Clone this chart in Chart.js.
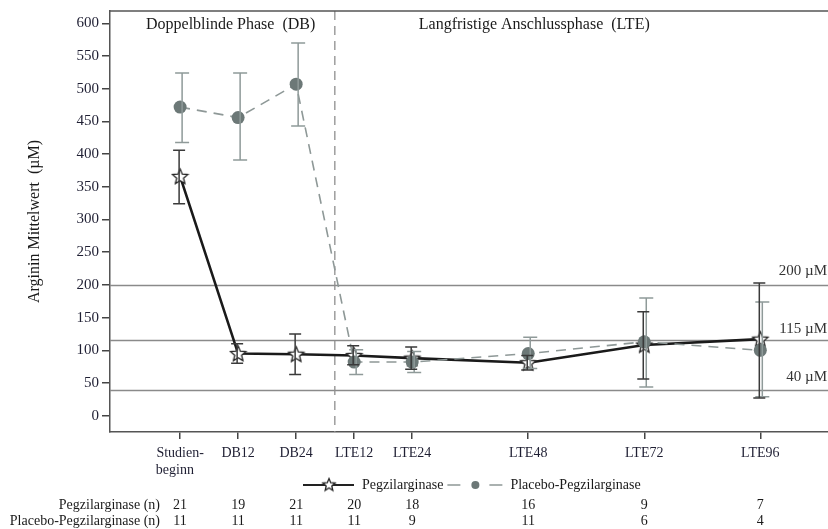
<!DOCTYPE html>
<html><head><meta charset="utf-8">
<script src="https://cdn.jsdelivr.net/npm/chart.js@4"></script>
<style>html,body{margin:0;padding:0;background:#fff}</style>
</head><body>
<canvas id="c" width="828" height="529"></canvas>
<script>
const visitLabels = [['Studien-', 'beginn   '], 'DB12', 'DB24', 'LTE12', 'LTE24', 'LTE48', 'LTE72', 'LTE96'];
const visitWeeks = [0, 12, 24, 36, 48, 72, 96, 120];
const pegMean = [366, 95, 94, 92, 88, 81, 108, 117];
const pegLow = [324, 80, 63, 78, 71, 70, 56, 27];
const pegHigh = [406, 110, 125, 107, 105, 92, 159, 203];
const placeboMean = [472, 456, 507, 82, 82, 95, 113, 100];
const placeboLow = [418, 391, 443, 63, 66, 72, 44, 29];
const placeboHigh = [524, 524, 570, 101, 98, 120, 180, 174];
const pegN = [21, 19, 21, 20, 18, 16, 9, 7];
const placeboN = [11, 11, 11, 11, 9, 11, 6, 4];
const yTickValues = [0, 50, 100, 150, 200, 250, 300, 350, 400, 450, 500, 550, 600];
const refLines = [200, 115, 40];
const refLabels = ['200 µM', '115 µM', '40 µM'];
const phaseBoundaryWeek = 32;
const phaseTitles = ['Doppelblinde Phase  (DB)', 'Langfristige Anschlussphase  (LTE)'];
const seriesNames = ['Pegzilarginase', 'Placebo-Pegzilarginase'];
const rowLabels = ['Pegzilarginase (n)', 'Placebo-Pegzilarginase (n)'];
const yTitle = 'Arginin Mittelwert  (µM)';

const SERIF = '"Liberation Serif", "Times New Roman", serif';
const PLACEBO_FILL = '#6c7877';
const PLACEBO_LINE = '#8e9897';

function makeStar(size) {
  const c = document.createElement('canvas');
  c.width = size; c.height = size;
  const g = c.getContext('2d');
  const cx = size / 2, cy = size / 2 + 0.6, R = size / 2 - 1.5, r = R * 0.45;
  g.beginPath();
  for (let i = 0; i < 10; i++) {
    const ang = -Math.PI / 2 + i * Math.PI / 5;
    const rad = i % 2 === 0 ? R : r;
    const px = cx + rad * Math.cos(ang), py = cy + rad * Math.sin(ang);
    if (i === 0) g.moveTo(px, py); else g.lineTo(px, py);
  }
  g.closePath();
  g.fillStyle = '#fff'; g.fill();
  g.lineWidth = 1.3; g.strokeStyle = '#222'; g.stroke();
  return c;
}
const starImg = makeStar(19);
const starSmall = makeStar(16);

const toXY = (arr) => arr.map((v, i) => ({ x: visitWeeks[i], y: v }));

const overlay = {
  id: 'overlay',
  beforeDatasetsDraw(chart) {
    const { ctx, chartArea: a, scales: { x, y } } = chart;
    ctx.save();
    ctx.strokeStyle = '#8a8a8a'; ctx.lineWidth = 1.4;
    refLines.forEach(v => {
      const py = Math.round(y.getPixelForValue(v)) + 0.5;
      ctx.beginPath(); ctx.moveTo(a.left, py); ctx.lineTo(a.right, py); ctx.stroke();
    });
    const px = x.getPixelForValue(phaseBoundaryWeek);
    ctx.setLineDash([9, 6]); ctx.strokeStyle = '#8f8f8f'; ctx.lineWidth = 1.3;
    ctx.beginPath(); ctx.moveTo(px, a.top); ctx.lineTo(px, a.bottom); ctx.stroke();
    ctx.setLineDash([]);
    ctx.strokeStyle = '#555'; ctx.lineWidth = 1.5;
    ctx.beginPath(); ctx.moveTo(a.left, a.top); ctx.lineTo(a.right, a.top); ctx.stroke();
    ctx.fillStyle = '#1a1a1a';
    ctx.font = '16px ' + SERIF;
    ctx.textBaseline = 'middle'; ctx.textAlign = 'left';
    ctx.fillText(phaseTitles[0], a.left + 36, a.top + 14);
    ctx.fillText(phaseTitles[1], px + 84, a.top + 14);
    ctx.font = '15px ' + SERIF; ctx.textAlign = 'right'; ctx.fillStyle = '#333';
    const offs = [14, 11, 12];
    refLines.forEach((v, i) => {
      const py = y.getPixelForValue(v);
      ctx.fillText(refLabels[i], a.right - 1, py - offs[i]);
    });
    ctx.restore();
  },
  afterDatasetsDraw(chart) {
    const { ctx, scales: { x, y } } = chart;
    ctx.save();
    const drawBars = (low, high, color, dx, hw) => {
      ctx.strokeStyle = color; ctx.lineWidth = 1.5;
      low.forEach((lo, i) => {
        const px = x.getPixelForValue(visitWeeks[i]) + dx;
        const y1 = y.getPixelForValue(lo), y2 = y.getPixelForValue(high[i]);
        ctx.beginPath();
        ctx.moveTo(px, y1); ctx.lineTo(px, y2);
        ctx.moveTo(px - hw, y1); ctx.lineTo(px + hw, y1);
        ctx.moveTo(px - hw, y2); ctx.lineTo(px + hw, y2);
        ctx.stroke();
      });
    };
    drawBars(placeboLow, placeboHigh, '#8f9a99', 2, 7);
    drawBars(pegLow, pegHigh, '#3a3a3a', -1, 6);
    ctx.restore();
  },
  afterDraw(chart) {
    const { ctx, scales: { x } } = chart;
    ctx.save();
    const ly = 485;
    ctx.strokeStyle = '#222'; ctx.lineWidth = 2;
    ctx.beginPath(); ctx.moveTo(303, ly); ctx.lineTo(354, ly); ctx.stroke();
    ctx.drawImage(starSmall, 329 - 8, ly - 8.5);
    ctx.font = '14px ' + SERIF; ctx.fillStyle = '#1a1a1a';
    ctx.textAlign = 'left'; ctx.textBaseline = 'middle';
    ctx.fillText(seriesNames[0], 362, ly);
    const w0 = ctx.measureText(seriesNames[0]).width;
    const s = 362 + w0 + 4;
    ctx.strokeStyle = PLACEBO_LINE; ctx.lineWidth = 1.5;
    ctx.beginPath(); ctx.moveTo(s, ly); ctx.lineTo(s + 13, ly); ctx.moveTo(s + 42, ly); ctx.lineTo(s + 55, ly); ctx.stroke();
    ctx.fillStyle = PLACEBO_FILL;
    ctx.beginPath(); ctx.arc(s + 28, ly, 4, 0, Math.PI * 2); ctx.fill();
    ctx.fillStyle = '#1a1a1a';
    ctx.fillText(seriesNames[1], s + 63, ly);
    const rows = [pegN, placeboN];
    const rowY = [505, 521];
    rows.forEach((r, k) => {
      ctx.textAlign = 'right';
      ctx.fillText(rowLabels[k], 160, rowY[k]);
      ctx.textAlign = 'center';
      r.forEach((n, i) => ctx.fillText(String(n), x.getPixelForValue(visitWeeks[i]), rowY[k]));
    });
    ctx.restore();
  }
};

new Chart(document.getElementById('c'), {
  type: 'line',
  data: {
    datasets: [
      {
        label: seriesNames[1], data: toXY(placeboMean), order: 0,
        borderColor: PLACEBO_LINE, borderWidth: 1.6, borderDash: [10, 7],
        pointStyle: 'circle', pointRadius: 6.5, pointBackgroundColor: PLACEBO_FILL,
        pointBorderColor: PLACEBO_FILL, pointBorderWidth: 0, tension: 0, fill: false
      },
      {
        label: seriesNames[0], data: toXY(pegMean), order: 1,
        borderColor: '#1a1a1a', borderWidth: 2.6,
        pointStyle: starImg, pointRadius: 9, tension: 0, fill: false
      }
    ]
  },
  options: {
    responsive: false, animation: false,
    layout: { autoPadding: false, padding: { top: 11, right: 0, left: 0, bottom: 0 } },
    plugins: { legend: { display: false }, tooltip: { enabled: false } },
    scales: {
      x: {
        type: 'linear', min: -14.5, max: 134,
        afterBuildTicks: (s) => { s.ticks = visitWeeks.map(v => ({ value: v })); },
        afterFit: (s) => { s.height = 97; s.paddingRight = 0; s.paddingLeft = 0; },
        grid: { drawOnChartArea: false, tickLength: 7, color: '#444', lineWidth: 1.5 },
        border: { color: '#555', width: 1.5 },
        ticks: {
          autoSkip: false, maxRotation: 0, padding: 6, color: '#1f1f33',
          font: { family: SERIF, size: 14 },
          callback: (v) => visitLabels[visitWeeks.indexOf(v)]
        }
      },
      y: {
        min: -25, max: 619,
        afterBuildTicks: (s) => { s.ticks = yTickValues.map(v => ({ value: v })); },
        afterFit: (s) => { s.width = 110; s.paddingTop = 0; s.paddingBottom = 0; },
        grid: { drawOnChartArea: false, tickLength: 8, color: '#444', lineWidth: 1.5 },
        border: { color: '#555', width: 1.5 },
        ticks: { padding: 3, color: '#1f1f33', font: { family: SERIF, size: 15 } },
        title: { display: true, text: yTitle, color: '#1a1a1a', font: { family: SERIF, size: 16 }, padding: { top: 25, bottom: 0 } }
      }
    }
  },
  plugins: [overlay]
});
</script>
</body></html>
